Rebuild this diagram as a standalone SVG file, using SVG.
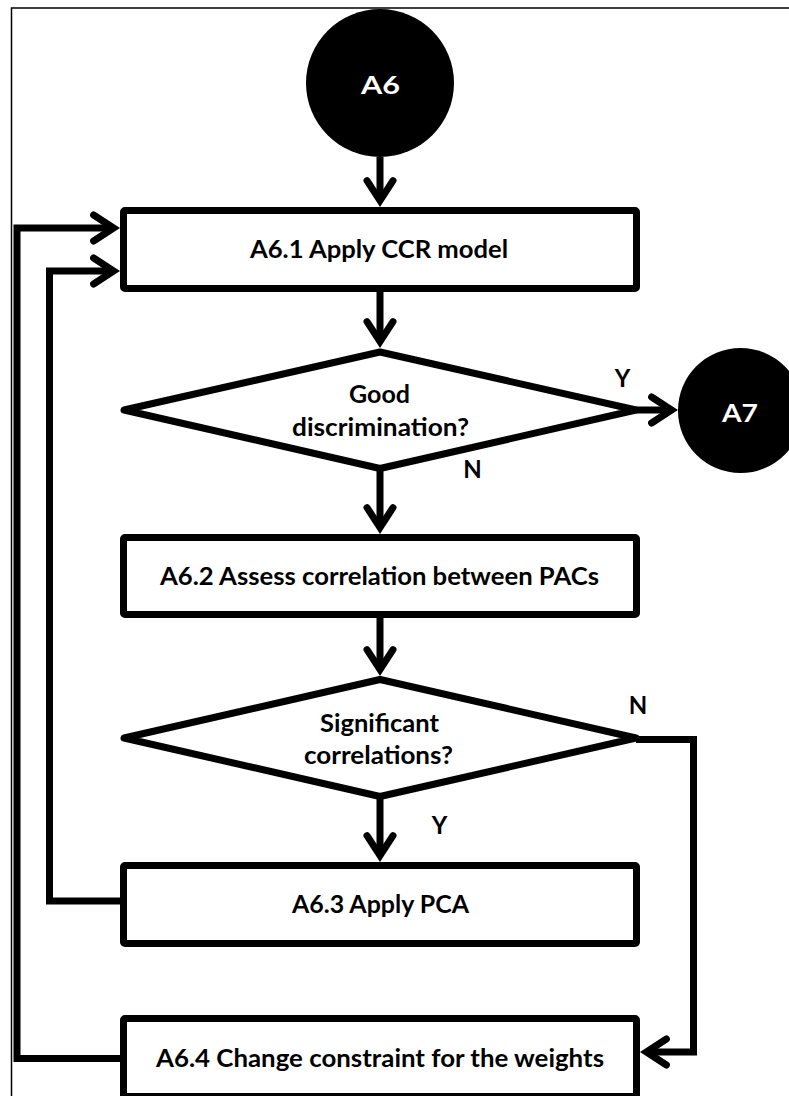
<svg xmlns="http://www.w3.org/2000/svg" width="789" height="1096" viewBox="0 0 789 1096">
<defs>
<style>
.box{fill:#fff;stroke:#000;stroke-width:7}
.dia{fill:#fff;stroke:#000;stroke-width:7;stroke-linejoin:round}
.term{fill:#000}
.t{font-family:Lato,"Open Sans",sans-serif;font-weight:700;font-size:24px;fill:#000;text-anchor:middle}
.tw{fill:#fff}
.conn{fill:none;stroke:#000;stroke-width:7;stroke-linejoin:miter;marker-end:url(#ah)}
.frame{fill:none;stroke:#000;stroke-width:1.5}
</style>
<marker id="ah" markerUnits="userSpaceOnUse" orient="auto" overflow="visible" markerWidth="10" markerHeight="10" refX="0" refY="0">
<path d="M-19.4,-13 L0.6,0 L-19.4,13" fill="none" stroke="#000" stroke-width="7" stroke-linecap="round" stroke-linejoin="miter"/>
</marker>
</defs>
<rect width="789" height="1096" fill="#fff"/>
<path class="frame" d="M11.5,1096 V8 H789"/>

<g id="A6">
<circle class="term" cx="380" cy="83" r="74"/>
<text class="t tw" x="380.5" y="94" font-size="30" textLength="39" lengthAdjust="spacingAndGlyphs">A6</text>
</g>
<g id="A6.1">
<rect class="box" x="123.5" y="210.5" width="513" height="78" rx="1.5"/>
<text class="t" x="379" y="258" textLength="258" lengthAdjust="spacingAndGlyphs">A6.1 Apply CCR model</text>
</g>
<g id="D1">
<polygon class="dia" points="380,352 636,410 380,468.5 124,410"/>
<text class="t" x="379.5" y="403" textLength="61" lengthAdjust="spacingAndGlyphs">Good</text>
<text class="t" x="380.5" y="436" textLength="177" lengthAdjust="spacingAndGlyphs">discrimination?</text>
</g>
<g id="A7">
<circle class="term" cx="740.5" cy="410.5" r="62.5"/>
<text class="t tw" x="740" y="422" font-size="28" textLength="36" lengthAdjust="spacingAndGlyphs">A7</text>
</g>
<g id="A6.2">
<rect class="box" x="123.5" y="537.5" width="513" height="77" rx="1.5"/>
<text class="t" x="379.5" y="585" textLength="439" lengthAdjust="spacingAndGlyphs">A6.2 Assess correlation between PACs</text>
</g>
<g id="D2">
<polygon class="dia" points="380,679.5 636,738 380,796.5 124,738"/>
<text class="t" x="379.5" y="732" textLength="119" lengthAdjust="spacingAndGlyphs">Significant</text>
<text class="t" x="378.5" y="764" textLength="149" lengthAdjust="spacingAndGlyphs">correlations?</text>
</g>
<g id="A6.3">
<rect class="box" x="123.5" y="865.5" width="513" height="78" rx="1.5"/>
<text class="t" x="380.5" y="913" textLength="177" lengthAdjust="spacingAndGlyphs">A6.3 Apply PCA</text>
</g>
<g id="A6.4">
<rect class="box" x="123.5" y="1018.5" width="513" height="78" rx="1.5"/>
<text class="t" x="380" y="1067" textLength="448" lengthAdjust="spacingAndGlyphs">A6.4 Change constraint for the weights</text>
</g>

<g id="connectors">
<path class="conn" d="M380,157 V200"/>
<path class="conn" d="M380,292 V341"/>
<path class="conn" d="M636,410 H671"/>
<path class="conn" d="M380,469 V527"/>
<path class="conn" d="M380,618 V669"/>
<path class="conn" d="M380,797 V855"/>
<path class="conn" d="M636,739.5 H693.5 V1052 H647"/>
<path class="conn" d="M120,901 H49.5 V271 H113"/>
<path class="conn" d="M120,1058.5 H17 V228 H113"/>
<text class="t" x="622.5" y="387" font-size="23">Y</text>
<text class="t" x="472.5" y="478" font-size="23">N</text>
<text class="t" x="638" y="714" font-size="23">N</text>
<text class="t" x="439.5" y="834" font-size="23">Y</text>
</g>
</svg>
